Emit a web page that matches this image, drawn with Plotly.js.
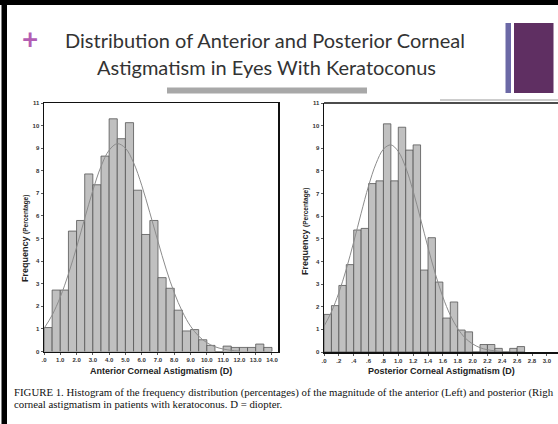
<!DOCTYPE html>
<html>
<head>
<meta charset="utf-8">
<script src="https://cdn.plot.ly/plotly-3.0.1.min.js"></script>
<style>
html,body{margin:0;padding:0;background:#fff;overflow:hidden;}
#chart{width:558px;height:424px;}
</style>
</head>
<body>
<div id="chart"></div>
<script>
// ---- Data ----
// Anterior corneal astigmatism histogram, bins of 0.5 D starting at 0
const antBinWidth = 0.5;
const antFreq = [1.06, 2.72, 2.72, 5.33, 5.80, 7.86, 7.38, 8.65, 10.3, 9.42, 10.13, 7.14, 5.18, 5.80,
                 3.27, 2.80, 1.83, 0.91, 0.97, 0.52, 0.27, 0, 0.24, 0.18, 0.18, 0.18, 0.33, 0.18];
// fitted normal curve (read points)
const antCurveX = [0, 0.5, 1, 1.5, 2, 2.5, 3, 3.5, 4, 4.5, 5, 5.5, 6, 6.5, 7, 7.5, 8, 8.5, 9, 9.5, 10, 10.5, 11, 11.5, 12];
const antCurveY = [1.02, 1.61, 2.41, 3.43, 4.61, 5.89, 7.13, 8.19, 8.91, 9.20, 9.00, 8.36, 7.36, 6.14, 4.87, 3.65, 2.60, 1.76, 1.12, 0.68, 0.39, 0.21, 0.11, 0.05, 0.02];
const antTickVals = [0,1,2,3,4,5,6,7,8,9,10,11,12,13,14];
const antTickText = ['.0','1.0','2.0','3.0','4.0','5.0','6.0','7.0','8.0','9.0','10.0','11.0','12.0','13.0','14.0'];

// Posterior corneal astigmatism histogram, bins of 0.1 D starting at 0
const postBinWidth = 0.1;
const postFreq = [1.66, 2.05, 2.94, 3.86, 5.39, 5.46, 7.44, 7.56, 10.08, 7.56, 9.93, 8.92, 9.15, 3.62,
                  5.05, 3.09, 1.50, 2.21, 0.97, 0.89, 0, 0.33, 0.33, 0.16, 0, 0.16, 0.24];
const postCurveX = [0, 0.1, 0.2, 0.3, 0.4, 0.5, 0.6, 0.7, 0.8, 0.9, 1.0, 1.1, 1.2, 1.3, 1.4, 1.5, 1.6, 1.7, 1.8, 1.9, 2.0, 2.1, 2.2, 2.3, 2.4];
const postCurveY = [1.14, 1.77, 2.62, 3.66, 4.86, 6.13, 7.34, 8.32, 8.96, 9.15, 8.86, 8.15, 7.11, 5.88, 4.62, 3.44, 2.43, 1.63, 1.04, 0.62, 0.36, 0.19, 0.10, 0.05, 0.02];
const postTickVals = [0,0.2,0.4,0.6,0.8,1.0,1.2,1.4,1.6,1.8,2.0,2.2,2.4,2.6,2.8,3.0];
const postTickText = ['.0','.2','.4','.6','.8','1.0','1.2','1.4','1.6','1.8','2.0','2.2','2.4','2.6','2.8','3.0'];

const yTickVals = [0,1,2,3,4,5,6,7,8,9,10,11];
const yTickText = ['0','1','2','3','4','5','6','7','8','9','10','11'];

// caption as visible in the reference (first line is cut by the slide edge)
const captionLine1 = 'FIGURE 1. Histogram of the frequency distribution (percentages) of the magnitude of the anterior (Left) and posterior (Righ';
const captionLine2 = 'corneal astigmatism in patients with keratoconus. D = diopter.';

// ---- Layout helpers ----
const W = 558, H = 424;
const px = x => x / W;
const py = y => 1 - y / H;

const antX = antFreq.map((_, i) => i * antBinWidth + antBinWidth / 2);
const postX = postFreq.map((_, i) => i * postBinWidth + postBinWidth / 2);

const barStyle = {color: '#c0c0c0', line: {color: '#555555', width: 0.8}};
const curveStyle = {color: '#8c8c8c', width: 1, shape: 'spline'};

const traces = [
  {type: 'bar', x: antX, y: antFreq, width: antBinWidth, marker: barStyle, xaxis: 'x', yaxis: 'y', hoverinfo: 'x+y'},
  {type: 'scatter', mode: 'lines', x: antCurveX, y: antCurveY, line: curveStyle, xaxis: 'x', yaxis: 'y'},
  {type: 'bar', x: postX, y: postFreq, width: postBinWidth, marker: barStyle, xaxis: 'x2', yaxis: 'y2', hoverinfo: 'x+y'},
  {type: 'scatter', mode: 'lines', x: postCurveX, y: postCurveY, line: curveStyle, xaxis: 'x2', yaxis: 'y2'}
];

const tickFont = {family: 'Liberation Sans, Arial, sans-serif', size: 6, color: '#333', weight: 'bold'};
const axisCommon = {
  showgrid: false, zeroline: false, showline: true, linecolor: '#111', linewidth: 1.5,
  ticks: 'outside', ticklen: 2, tickwidth: 0.8, tickcolor: '#333', tickfont: tickFont, fixedrange: true
};
const sansBold = {family: 'Liberation Sans, Arial, sans-serif', size: 9, color: '#222', weight: 'bold'};

const layout = {
  width: W, height: H,
  margin: {l: 0, r: 0, t: 0, b: 0},
  paper_bgcolor: '#ffffff', plot_bgcolor: '#ffffff',
  showlegend: false, bargap: 0,
  xaxis: Object.assign({}, axisCommon, {domain: [px(44), px(278)], range: [0, 14.37], tickmode: 'array',
         tickvals: antTickVals, ticktext: antTickText, mirror: true, anchor: 'y'}),
  yaxis: Object.assign({}, axisCommon, {domain: [py(351.5), py(103)], range: [0, 11], tickmode: 'array',
         tickvals: yTickVals, ticktext: yTickText, mirror: true, anchor: 'x'}),
  xaxis2: Object.assign({}, axisCommon, {domain: [px(324), 1], range: [0, 3.15], tickmode: 'array',
         tickvals: postTickVals, ticktext: postTickText, anchor: 'y2'}),
  yaxis2: Object.assign({}, axisCommon, {domain: [py(352), py(103)], range: [0, 11], tickmode: 'array',
         tickvals: yTickVals, ticktext: yTickText, anchor: 'x2'}),
  shapes: [
    {type: 'rect', xref: 'paper', yref: 'paper', x0: 0, x1: 1, y0: py(5), y1: 1, fillcolor: '#000', line: {width: 0}},
    {type: 'rect', xref: 'paper', yref: 'paper', x0: px(1.5), x1: px(7), y0: 0, y1: 1, fillcolor: '#000', line: {width: 0}},
    {type: 'rect', xref: 'paper', yref: 'paper', x0: px(167), x1: px(367), y0: py(93.5), y1: py(87.5), fillcolor: '#a8a8a8', line: {width: 0}},
    {type: 'rect', xref: 'paper', yref: 'paper', x0: px(505.5), x1: px(511), y0: py(93), y1: py(23), fillcolor: '#6c69a6', line: {width: 0}},
    {type: 'rect', xref: 'paper', yref: 'paper', x0: px(514), x1: px(553.5), y0: py(93), y1: py(23), fillcolor: '#5f2f62', line: {width: 0}},
    {type: 'line', xref: 'paper', yref: 'paper', x0: px(440), x1: 1, y0: py(100), y1: py(100), line: {color: '#9a9a9a', width: 1}},
    {type: 'line', xref: 'paper', yref: 'paper', x0: px(324), x1: 1, y0: py(103), y1: py(103), line: {color: '#111', width: 1.5}}
  ],
  annotations: [
    {xref: 'paper', yref: 'paper', x: px(30), y: py(38), text: '+', showarrow: false, xanchor: 'center', yanchor: 'middle',
     font: {family: 'Lato, sans-serif', size: 28, color: '#b35db3', weight: 'bold'}},
    {xref: 'paper', yref: 'paper', x: px(265), y: py(40), text: 'Distribution of Anterior and Posterior Corneal', showarrow: false,
     xanchor: 'center', yanchor: 'middle', font: {family: 'Lato, sans-serif', size: 20, color: '#333333'}},
    {xref: 'paper', yref: 'paper', x: px(266), y: py(67), text: 'Astigmatism in Eyes With Keratoconus', showarrow: false,
     xanchor: 'center', yanchor: 'middle', font: {family: 'Lato, sans-serif', size: 20, color: '#333333'}},
    {xref: 'paper', yref: 'paper', x: px(25), y: py(239), text: 'Frequency <span style="font-size:6.5px">(Percentage)</span>', showarrow: false,
     textangle: -90, xanchor: 'center', yanchor: 'middle', font: sansBold},
    {xref: 'paper', yref: 'paper', x: px(305), y: py(232), text: 'Frequency <span style="font-size:6.5px">(Percentage)</span>', showarrow: false,
     textangle: -90, xanchor: 'center', yanchor: 'middle', font: sansBold},
    {xref: 'paper', yref: 'paper', x: px(161), y: py(371), text: 'Anterior Corneal Astigmatism (D)', showarrow: false,
     xanchor: 'center', yanchor: 'middle', font: sansBold},
    {xref: 'paper', yref: 'paper', x: px(441), y: py(371), text: 'Posterior Corneal Astigmatism (D)', showarrow: false,
     xanchor: 'center', yanchor: 'middle', font: sansBold},
    {xref: 'paper', yref: 'paper', x: px(12), y: py(392), text: captionLine1, showarrow: false,
     xanchor: 'left', yanchor: 'middle', font: {family: 'Liberation Serif, Times New Roman, serif', size: 10.8, color: '#111'}},
    {xref: 'paper', yref: 'paper', x: px(12), y: py(404), text: captionLine2, showarrow: false,
     xanchor: 'left', yanchor: 'middle', font: {family: 'Liberation Serif, Times New Roman, serif', size: 10.8, color: '#111'}}
  ]
};

Plotly.newPlot('chart', traces, layout, {displayModeBar: false, staticPlot: true});
</script>
</body>
</html>
